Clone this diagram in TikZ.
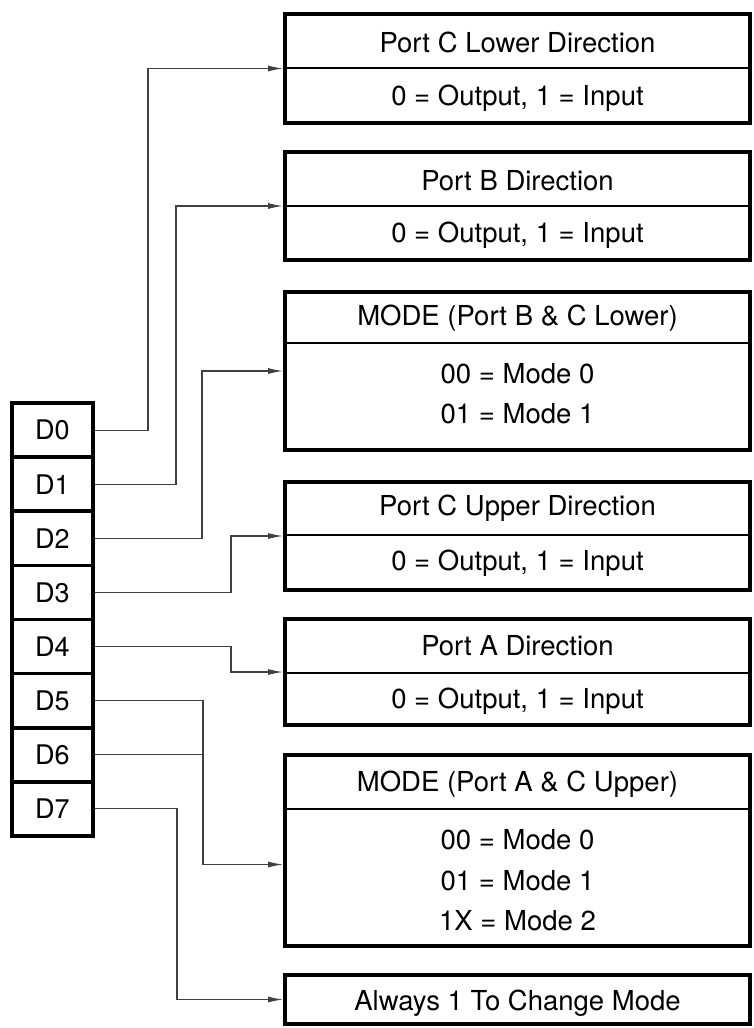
\documentclass[tikz,border=0pt]{standalone}
\usepackage{fontspec}
\setmainfont{TeX Gyre Heros}
\usetikzlibrary{arrows.meta,calc}
\begin{document}
\begin{tikzpicture}[x=1pt,y=-1pt,
  regbox/.style={draw=black,line width=4pt,minimum width=465pt,inner sep=0pt,fill=white},
  cell/.style={draw=black,line width=3.5pt,minimum width=81pt,minimum height=54.1pt,inner sep=0pt,font=\fontsize{27}{30}\selectfont},
  txt/.style={anchor=base,inner sep=0pt,font=\fontsize{27.5}{30}\selectfont},
  divider/.style={line width=1.3pt},
  conn/.style={line width=1.1pt,draw=black!75},
  arr/.style={conn,-{Latex[length=15pt,width=6pt]}}
]
\useasboundingbox (0,0) rectangle (754,1028);
% register cells
\foreach \i in {0,...,7}{
  \node[cell] (D\i) at (52.5,{403+54.125*(\i+0.5)}) {D\i};
}
% boxes
\node[regbox,minimum height=109pt] (b1) at (517.5,68.5) {};
\node[regbox,minimum height=108pt] (b2) at (517.5,206) {};
\node[regbox,minimum height=158pt] (b3) at (517.5,371) {};
\node[regbox,minimum height=108pt] (b4) at (517.5,536) {};
\node[regbox,minimum height=106pt] (b5) at (517.5,672) {};
\node[regbox,minimum height=191pt] (b6) at (517.5,850.5) {};
\node[regbox,minimum height=49pt] (b7) at (517.5,999.5) {};
% dividers
\draw[divider] (b1.west |- 0,68) -- (b1.east |- 0,68);
\draw[divider] (b2.west |- 0,206) -- (b2.east |- 0,206);
\draw[divider] (b3.west |- 0,343) -- (b3.east |- 0,343);
\draw[divider] (b4.west |- 0,535) -- (b4.east |- 0,535);
\draw[divider] (b5.west |- 0,673) -- (b5.east |- 0,673);
\draw[divider] (b6.west |- 0,809) -- (b6.east |- 0,809);
% texts
\node[txt] (t1a) at (517.5,52) {Port C Lower Direction};
\node[txt] (t1b) at (517.5,105) {0 = Output, 1 = Input};
\node[txt] (t2a) at (517.5,190) {Port B Direction};
\node[txt] (t2b) at (517.5,242) {0 = Output, 1 = Input};
\node[txt] (t3a) at (517.5,325) {MODE (Port B \& C Lower)};
\node[txt] (t3b) at (517.5,383) {00 = Mode 0};
\node[txt] (t3c) at (517.5,423) {01 = Mode 1};
\node[txt] (t4a) at (517.5,515) {Port C Upper Direction};
\node[txt] (t4b) at (517.5,570) {0 = Output, 1 = Input};
\node[txt] (t5a) at (517.5,655) {Port A Direction};
\node[txt] (t5b) at (517.5,708) {0 = Output, 1 = Input};
\node[txt] (t6a) at (517.5,791) {MODE (Port A \& C Upper)};
\node[txt] (t6b) at (517.5,849) {00 = Mode 0};
\node[txt] (t6c) at (517.5,890) {01 = Mode 1};
\node[txt] (t6d) at (517.5,930) {1X = Mode 2};
\node[txt] (t7a) at (517.5,1010) {Always 1 To Change Mode};
% connector targets / jogs
\coordinate (b6in) at ($(b6.west)+(0,14)$);
\coordinate (j5) at (203,0);
% connectors
\draw[arr] (D0.east) -- (D0.east -| 148,0) |- (b1.west);
\draw[arr] (D1.east) -- (D1.east -| 176,0) |- (b2.west);
\draw[arr] (D2.east) -- (D2.east -| 202,0) |- (b3.west);
\draw[arr] (D3.east) -- (D3.east -| 231,0) |- (b4.west);
\draw[arr] (D4.east) -- (D4.east -| 231,0) |- (b5.west);
\draw[arr] (D5.east) -- (D5.east -| j5) |- (b6in);
\draw[conn] (D6.east) -- (D6.east -| j5);
\draw[arr] (D7.east) -- (D7.east -| 177,0) |- (b7.west);
\end{tikzpicture}
\end{document}
